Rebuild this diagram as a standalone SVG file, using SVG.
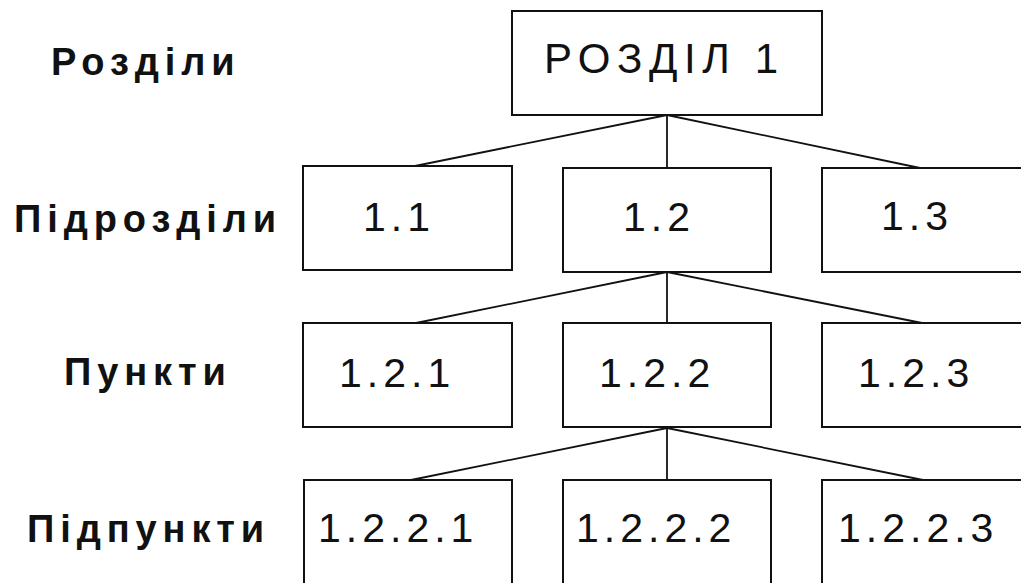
<svg xmlns="http://www.w3.org/2000/svg" width="1021" height="583" viewBox="0 0 1021 583">
  <style>
    .box { fill: #ffffff; stroke: #111111; stroke-width: 2; }
    .lbl { font-family: "Liberation Sans", Arial, sans-serif; font-size: 41px; fill: #111111; letter-spacing: 5px; }
    .lvl { font-family: "Liberation Sans", Arial, sans-serif; font-size: 38px; font-weight: bold; fill: #111111; letter-spacing: 5.9px; }
    .conn line { stroke: #111111; stroke-width: 1.8; }
  </style>
  <rect width="1021" height="583" fill="#ffffff"/>

  <!-- level captions -->
  <g id="levels">
    <text class="lvl" x="51" y="75">Розділи</text>
    <text class="lvl" x="14" y="232">Підрозділи</text>
    <text class="lvl" x="64" y="385">Пункти</text>
    <text class="lvl" x="27" y="542">Підпункти</text>
  </g>

  <!-- connectors -->
  <g id="connectors" class="conn">
    <line x1="667" y1="115" x2="410" y2="167"/>
    <line x1="667" y1="115" x2="667" y2="168"/>
    <line x1="667" y1="115" x2="920" y2="168"/>
    <line x1="667" y1="272" x2="416" y2="323"/>
    <line x1="667" y1="272" x2="667" y2="323"/>
    <line x1="667" y1="272" x2="922" y2="323"/>
    <line x1="667" y1="428" x2="411" y2="480"/>
    <line x1="667" y1="428" x2="667" y2="480"/>
    <line x1="667" y1="428" x2="923" y2="480"/>
  </g>

  <g id="n-root">
    <rect class="box" x="512" y="11" width="310" height="104"/>
    <text class="lbl" x="544" y="73" style="font-size:42px;letter-spacing:6.6px">РОЗДІЛ 1</text>
  </g>

  <g id="n-1-1">
    <rect class="box" x="303" y="166" width="209" height="104"/>
    <text class="lbl" x="363" y="231">1.1</text>
  </g>
  <g id="n-1-2">
    <rect class="box" x="563" y="168" width="208" height="104"/>
    <text class="lbl" x="623" y="231">1.2</text>
  </g>
  <g id="n-1-3">
    <rect class="box" x="822" y="168" width="220" height="104"/>
    <text class="lbl" x="881" y="230">1.3</text>
  </g>

  <g id="n-1-2-1">
    <rect class="box" x="303" y="323" width="209" height="104"/>
    <text class="lbl" x="339" y="387">1.2.1</text>
  </g>
  <g id="n-1-2-2">
    <rect class="box" x="563" y="323" width="208" height="104"/>
    <text class="lbl" x="599" y="387">1.2.2</text>
  </g>
  <g id="n-1-2-3">
    <rect class="box" x="822" y="323" width="220" height="104"/>
    <text class="lbl" x="858" y="387">1.2.3</text>
  </g>

  <g id="n-1-2-2-1">
    <rect class="box" x="304" y="480" width="208" height="130"/>
    <text class="lbl" x="318" y="542">1.2.2.1</text>
  </g>
  <g id="n-1-2-2-2">
    <rect class="box" x="563" y="480" width="208" height="130"/>
    <text class="lbl" x="576" y="542">1.2.2.2</text>
  </g>
  <g id="n-1-2-2-3">
    <rect class="box" x="822" y="480" width="220" height="130"/>
    <text class="lbl" x="838" y="542">1.2.2.3</text>
  </g>
</svg>
